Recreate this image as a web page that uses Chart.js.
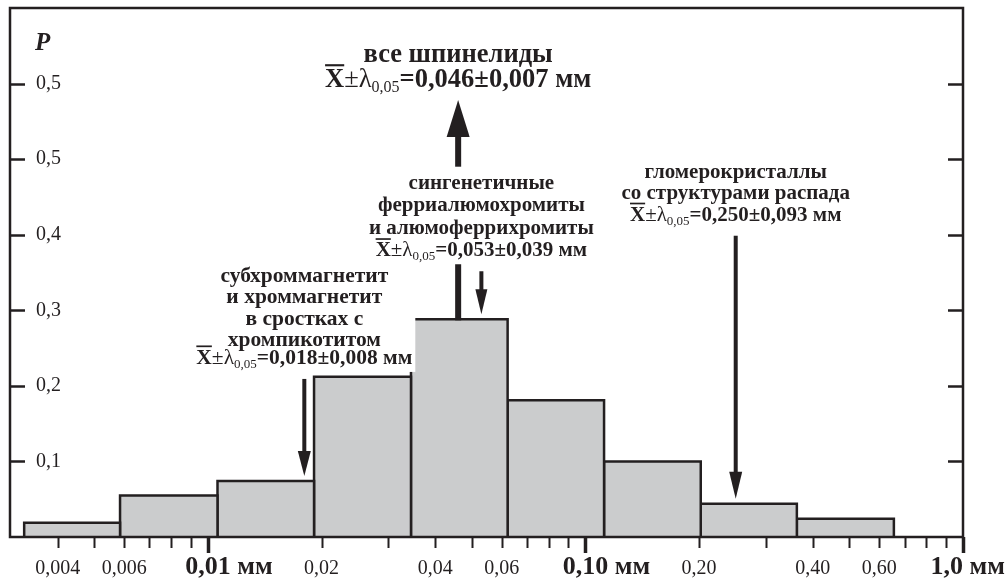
<!DOCTYPE html>
<html>
<head>
<meta charset="utf-8">
<script src="https://cdn.jsdelivr.net/npm/chart.js@4/dist/chart.umd.min.js"></script>
<style>
  html, body { margin: 0; padding: 0; background: #fff; }
  #wrap { width: 1007px; height: 583px; position: relative; }
</style>
</head>
<body>
<div id="wrap"><canvas id="c"></canvas></div>
<script>
// Grain-size classes, mm (log scale), and the share of grains P in each class
const binEdges = [0.00326, 0.00585, 0.0106, 0.0191, 0.0345, 0.0622, 0.112, 0.202, 0.363, 0.656];
const binShares = [0.019, 0.055, 0.074, 0.212, 0.288, 0.181, 0.100, 0.044, 0.024];

// Size axis
const xMin = 0.00299;
const xMax = 1.0;
const xTickValues = [0.004, 0.005, 0.006, 0.007, 0.008, 0.009, 0.01,
                     0.02, 0.03, 0.04, 0.05, 0.06, 0.07, 0.08, 0.09, 0.1,
                     0.2, 0.3, 0.4, 0.5, 0.6, 0.7, 0.8, 0.9, 1.0];
const xMajorValues = [0.01, 0.1, 1.0];
const xLabelValues = [0.004, 0.006, 0.01, 0.02, 0.04, 0.06, 0.1, 0.2, 0.4, 0.6, 1.0];
const xLabelTexts = ['0,004', '0,006', '0,01', '0,02', '0,04', '0,06', '0,10', '0,20', '0,40', '0,60', '1,0'];
const xUnit = 'мм';

// Probability axis
const yMax = 0.7;
const yTickValues = [0.1, 0.2, 0.3, 0.4, 0.5, 0.6];
const yTickLabels = ['0,1', '0,2', '0,3', '0,4', '0,5', '0,5'];
const yTitle = 'P';

// Spinel groups: mean size and its confidence half-width, mm
const groupNames = [
  ['все шпинелиды'],
  ['сингенетичные', 'ферриалюмохромиты', 'и алюмоферрихромиты'],
  ['субхроммагнетит', 'и хроммагнетит', 'в сростках с', 'хромпикотитом'],
  ['гломерокристаллы', 'со структурами распада']
];
const groupMeans = [0.046, 0.053, 0.018, 0.250];
const groupErrors = [0.007, 0.039, 0.008, 0.093];

const INK = '#231f20';
const BAR_FILL = '#cbcccd';
const SERIF = '"Liberation Serif", "Times New Roman", serif';

// Placement of the group notes: baseline of the statistics line (in P units),
// line spacing and font size in px, arrow direction.
const noteLayout = [
  { baseline: 0.5955, gap: 25,   size: 26.5, arrow: 'up',   shaft: 6, headW: 23, headL: 37, clear: false },
  { baseline: 0.3715, gap: 22.5, size: 21,   arrow: 'down', shaft: 4, headW: 12, headL: 25, clear: true },
  { baseline: 0.2290, gap: 21.5, size: 21.5, arrow: 'down', shaft: 4, headW: 13, headL: 25, clear: true, lastGap: 17.5 },
  { baseline: 0.4185, gap: 21.5, size: 21,   arrow: 'down', shaft: 4, headW: 13, headL: 27, clear: true }
];

function fmt(v) { return v.toFixed(3).replace('.', ','); }

function shareAt(size) {
  for (let i = 0; i < binShares.length; i++) {
    if (size >= binEdges[i] && size < binEdges[i + 1]) return binShares[i];
  }
  return 0;
}

// Each size class is drawn as its own closed outline filled down to P = 0
const datasets = binShares.map((p, i) => ({
  data: [
    { x: binEdges[i], y: 0 },
    { x: binEdges[i], y: p },
    { x: binEdges[i + 1], y: p },
    { x: binEdges[i + 1], y: 0 }
  ],
  borderColor: INK,
  borderWidth: 2.5,
  borderJoinStyle: 'miter',
  backgroundColor: BAR_FILL,
  fill: 'origin',
  tension: 0,
  pointRadius: 0,
  pointHoverRadius: 0
}));

// "X̄±λ0,05=m±e мм" with an overbar on X and a subscript
function statParts(mean, err, size) {
  return [
    { t: 'X', f: `bold ${size}px ${SERIF}`, dy: 0, bar: true },
    { t: '±λ', f: `${size}px ${SERIF}`, dy: 0 },
    { t: '0,05', f: `${Math.round(size * 0.6)}px ${SERIF}`, dy: size * 0.2 },
    { t: '=' + fmt(mean) + '±' + fmt(err) + ' ' + xUnit, f: `bold ${size}px ${SERIF}`, dy: 0 }
  ];
}
function partsWidth(ctx, parts) {
  let w = 0;
  for (const p of parts) { ctx.font = p.f; w += ctx.measureText(p.t).width; }
  return w;
}
function drawParts(ctx, parts, cx, by, size) {
  const total = partsWidth(ctx, parts);
  let x = cx - total / 2;
  ctx.textAlign = 'left';
  ctx.textBaseline = 'alphabetic';
  for (const p of parts) {
    ctx.font = p.f;
    const w = ctx.measureText(p.t).width;
    ctx.fillText(p.t, x, by + p.dy);
    if (p.bar) {
      ctx.save();
      ctx.lineWidth = Math.max(1.5, size * 0.08);
      const yb = by - size * 0.66 - size * 0.16;
      ctx.beginPath();
      ctx.moveTo(x, yb);
      ctx.lineTo(x + w, yb);
      ctx.stroke();
      ctx.restore();
    }
    x += w;
  }
  return total;
}

function drawArrow(ctx, x, yFrom, yTo, shaft, headW, headL) {
  const dir = yTo > yFrom ? 1 : -1;
  const yBase = yTo - dir * headL;
  ctx.save();
  ctx.fillStyle = INK;
  ctx.fillRect(x - shaft / 2, Math.min(yFrom, yBase), shaft, Math.abs(yBase - yFrom) + 1);
  ctx.beginPath();
  ctx.moveTo(x - headW / 2, yBase);
  ctx.lineTo(x + headW / 2, yBase);
  ctx.lineTo(x, yTo);
  ctx.closePath();
  ctx.fill();
  ctx.restore();
}

const notesPlugin = {
  id: 'groupNotes',
  afterDatasetsDraw(chart) {
    const { ctx, scales: { x, y } } = chart;
    ctx.save();
    ctx.fillStyle = INK;
    ctx.strokeStyle = INK;

    // arrows first, text blocks go on top of them
    const blocks = [];
    groupMeans.forEach((m, g) => {
      const L = noteLayout[g];
      const cx = x.getPixelForValue(m);
      const statY = y.getPixelForValue(L.baseline);
      const lines = groupNames[g];
      const lastGap = L.lastGap || L.gap;
      const baselines = lines.map((_, i) => statY - lastGap - (lines.length - 1 - i) * L.gap);
      const barTop = y.getPixelForValue(shareAt(m));
      if (L.arrow === 'up') {
        drawArrow(ctx, cx, barTop, statY + 13, L.shaft, L.headW, L.headL);
      } else {
        drawArrow(ctx, cx, statY + 15, barTop - 5, L.shaft, L.headW, L.headL);
      }
      blocks.push({ g, cx, statY, baselines, L });
    });

    for (const b of blocks) {
      const { g, cx, statY, baselines, L } = b;
      const lineFont = `bold ${L.size}px ${SERIF}`;
      const parts = statParts(groupMeans[g], groupErrors[g], L.size);
      if (L.clear) {
        let w = partsWidth(ctx, parts);
        ctx.font = lineFont;
        for (const t of groupNames[g]) w = Math.max(w, ctx.measureText(t).width);
        const top = baselines[0] - L.size * 1.05;
        ctx.save();
        ctx.fillStyle = '#fff';
        ctx.fillRect(cx - w / 2 - 3, top, w + 6, statY + 8 - top);
        ctx.restore();
      }
      ctx.font = lineFont;
      ctx.textAlign = 'center';
      ctx.textBaseline = 'alphabetic';
      groupNames[g].forEach((t, i) => ctx.fillText(t, cx, baselines[i]));
      drawParts(ctx, parts, cx, statY, L.size);
    }
    ctx.restore();
  }
};

const framePlugin = {
  id: 'frameAxes',
  afterDraw(chart) {
    const { ctx, chartArea: a, scales: { x, y } } = chart;
    ctx.save();
    ctx.strokeStyle = INK;
    ctx.fillStyle = INK;
    ctx.lineCap = 'butt';

    // frame
    ctx.lineWidth = 2.5;
    ctx.strokeRect(a.left, a.top, a.right - a.left, a.bottom - a.top);

    // inward probability ticks on both sides
    ctx.lineWidth = 2.5;
    for (const v of yTickValues) {
      const py = Math.round(y.getPixelForValue(v)) + 0.5;
      ctx.beginPath();
      ctx.moveTo(a.left, py); ctx.lineTo(a.left + 15, py);
      ctx.moveTo(a.right - 15, py); ctx.lineTo(a.right, py);
      ctx.stroke();
    }

    // size ticks below the axis, decades longer and heavier
    for (const v of xTickValues) {
      const major = xMajorValues.includes(v);
      const px = Math.round(x.getPixelForValue(v)) + 0.5;
      ctx.lineWidth = major ? 3.5 : 2;
      ctx.beginPath();
      ctx.moveTo(px, a.bottom);
      ctx.lineTo(px, a.bottom + (major ? 16 : 11));
      ctx.stroke();
    }

    // size labels: the number is centred on its tick, the unit follows it
    ctx.textBaseline = 'alphabetic';
    ctx.textAlign = 'left';
    const W = chart.width;
    xLabelValues.forEach((v, i) => {
      const major = xMajorValues.includes(v);
      ctx.font = major ? `bold 26px ${SERIF}` : `20px ${SERIF}`;
      const num = xLabelTexts[i];
      const suf = major ? ' ' + xUnit : '';
      const wn = ctx.measureText(num).width;
      const ws = ctx.measureText(suf).width;
      let sx = x.getPixelForValue(v) - wn / 2;
      if (sx + wn + ws > W - 2) sx = W - 2 - wn - ws;
      ctx.fillText(num + suf, sx, a.bottom + 37);
    });

    // axis title
    ctx.font = `italic bold 25px ${SERIF}`;
    ctx.fillText(yTitle, a.left + 25, a.top + 42);
    ctx.restore();
  }
};

new Chart(document.getElementById('c'), {
  type: 'line',
  data: { datasets },
  options: {
    responsive: true,
    maintainAspectRatio: false,
    animation: false,
    events: [],
    layout: { padding: { left: 10, top: 8, right: 44, bottom: 46 } },
    plugins: { legend: { display: false }, tooltip: { enabled: false } },
    scales: {
      x: {
        type: 'logarithmic',
        min: xMin,
        max: xMax,
        grid: { display: false, drawTicks: false },
        border: { display: false },
        ticks: { display: false },
        afterFit: (s) => { s.height = 0; s.paddingLeft = 0; s.paddingRight = 0; }
      },
      y: {
        type: 'linear',
        min: 0,
        max: yMax,
        grid: { display: false, drawTicks: false },
        border: { display: false },
        afterBuildTicks: (s) => { s.ticks = yTickValues.map(v => ({ value: v })); },
        afterFit: (s) => { s.width = 0; s.paddingTop = 0; s.paddingBottom = 0; },
        ticks: {
          mirror: true,
          padding: 26,
          color: INK,
          font: { family: SERIF, size: 20 },
          callback: (v) => yTickLabels[yTickValues.indexOf(v)]
        }
      }
    }
  },
  plugins: [notesPlugin, framePlugin]
});
</script>
</body>
</html>
